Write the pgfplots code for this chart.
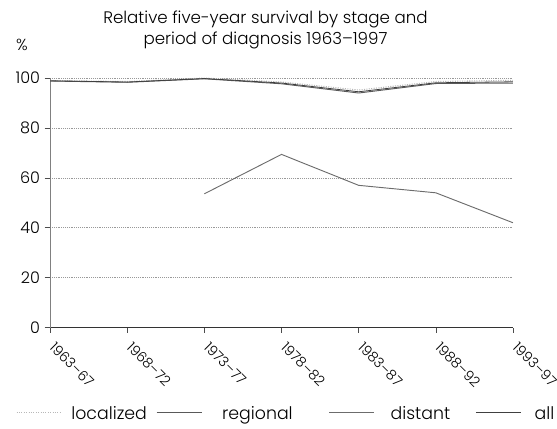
\documentclass[border=0pt]{standalone}
\usepackage{pgfplots}
\pgfplotsset{compat=1.18}
\usepackage{fontspec}
\setmainfont{Poppins}[UprightFont=* Light]

\definecolor{lightln}{gray}{0.72}
\definecolor{darkln}{gray}{0.35}
\definecolor{gridc}{gray}{0.6}

\begin{document}
\begin{tikzpicture}
\begin{axis}[
    scale only axis,
    width=347pt, height=187pt,
    xmin=0, xmax=6, ymin=0, ymax=100,
    clip=false,
    axis x line*=bottom, axis y line*=left,
    x axis line style={black!80, -}, y axis line style={gray, -},
    xtick={0,...,6},
    xticklabels={1963--67,1968--72,1973--77,1978--82,1983--87,1988--92,1993--97},
    xticklabel style={xshift=4.5pt, yshift=-6pt, rotate=-45, anchor=north west, inner sep=0pt,
        font=\fontsize{10.5}{12}\selectfont},
    ytick={0,20,...,100},
    yticklabel style={font=\fontsize{12}{14}\selectfont},
    tick align=outside, major tick length=4pt,
    tick style={black!70, thin},
    ymajorgrids, grid style={gridc, densely dotted, thin},
    /pgf/number format/assume math mode=true,
    title={Relative five-year survival by stage and\\period of diagnosis 1963--1997},
    title style={align=center, font=\fontsize{12.5}{16}\selectfont, yshift=12pt, xshift=-12pt},
    legend columns=4,
    legend style={draw=none, inner sep=0pt, outer sep=0pt,
        at={([xshift=-25.5pt, yshift=-63.75pt]rel axis cs:0,0)}, anchor=west,
        font=\fontsize{13}{14}\selectfont,
        nodes={inner sep=0pt, text depth=0pt},
        /tikz/every odd column/.append style={column sep=7pt},
        /tikz/every even column/.append style={column sep=7pt}},
    legend image code/.code={\draw[#1] (0pt,0pt) -- (33.7pt,0pt);},
]
\addplot[lightln, line width=0.8pt, densely dotted] coordinates {
    (0,99.0) (1,98.6) (2,100) (3,98.4) (4,95.2) (5,98.6) (6,99.1)};
\addlegendentry{localized}
\addplot[darkln, line width=0.7pt] coordinates {
    (0,98.8) (1,98.3) (2,99.7) (3,97.7) (4,94.0) (5,97.8) (6,98.0)};
\addlegendentry{\hspace{8pt}regional\makebox[20pt]{}}
\addplot[darkln!80!lightln, line width=0.7pt] coordinates {
    (2,53.6) (3,69.4) (4,57.0) (5,54.0) (6,42.0)};
\addlegendentry{\hspace{5pt}distant\makebox[12pt]{}}
\addplot[black!75, line width=0.6pt] coordinates {
    (0,98.9) (1,98.4) (2,99.8) (3,98.0) (4,94.5) (5,98.1) (6,98.5)};
\addlegendentry{\hspace{3pt}all}
\node[anchor=base, font=\fontsize{12}{14}\selectfont] at ([xshift=-21pt, yshift=21pt]rel axis cs:0,1) {\%};
\coordinate (ll) at ([xshift=-37.5pt, yshift=-75.75pt]rel axis cs:0,0);
\coordinate (ur) at ([xshift=33pt, yshift=58.5pt]rel axis cs:1,1);
\end{axis}
\pgfresetboundingbox
\path (ll) rectangle (ur);
\end{tikzpicture}
\end{document}
